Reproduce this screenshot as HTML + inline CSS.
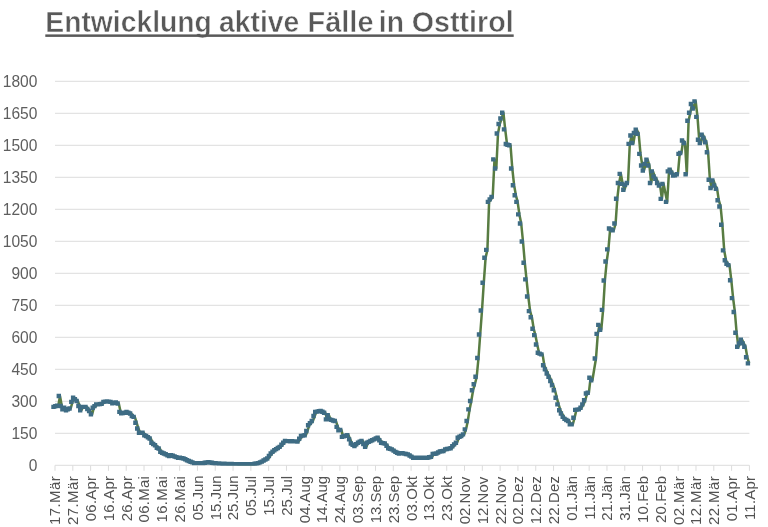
<!DOCTYPE html>
<html lang="de"><head><meta charset="utf-8"><title>Entwicklung aktive Fälle in Osttirol</title>
<style>
html,body{margin:0;padding:0;background:#fff;}
body{width:768px;height:527px;overflow:hidden;position:relative;font-family:"Liberation Sans",sans-serif;}
svg{position:absolute;left:0;top:0;display:block;}
.t{font-family:"Liberation Sans",sans-serif;font-weight:bold;font-size:29.5px;fill:#595959;stroke:#fff;stroke-width:0.5px;}
.yl{font-family:"Liberation Sans",sans-serif;font-size:16.5px;fill:#5e5e5e;}
.xl{font-family:"Liberation Sans",sans-serif;font-size:15px;fill:#525252;}
</style></head><body>
<svg width="768" height="527" viewBox="0 0 768 527">
<rect x="0" y="0" width="768" height="527" fill="#ffffff"/>
<text class="t" y="31.7" xml:space="default"><tspan x="45.3" textLength="166.6" lengthAdjust="spacingAndGlyphs">Entwicklung</tspan> <tspan x="219.1" textLength="80.2" lengthAdjust="spacingAndGlyphs">aktive</tspan> <tspan x="307.5" textLength="66.0" lengthAdjust="spacingAndGlyphs">Fälle</tspan> <tspan x="378.8" textLength="25.1" lengthAdjust="spacingAndGlyphs">in</tspan> <tspan x="411.8" textLength="101.9" lengthAdjust="spacingAndGlyphs">Osttirol</tspan></text>
<rect x="45.3" y="34.4" width="468.4" height="2.5" fill="#595959"/>
<rect x="55.0" y="464.80" width="694.40" height="1" fill="#dcdcdc"/>
<text class="yl" x="28.75" y="470.60" textLength="8.65" lengthAdjust="spacingAndGlyphs">0</text>
<rect x="55.0" y="432.80" width="694.40" height="1" fill="#dddddd"/>
<text class="yl" x="11.45" y="438.60" textLength="25.95" lengthAdjust="spacingAndGlyphs">150</text>
<rect x="55.0" y="400.80" width="694.40" height="1" fill="#dddddd"/>
<text class="yl" x="11.45" y="406.60" textLength="25.95" lengthAdjust="spacingAndGlyphs">300</text>
<rect x="55.0" y="368.80" width="694.40" height="1" fill="#dddddd"/>
<text class="yl" x="11.45" y="374.60" textLength="25.95" lengthAdjust="spacingAndGlyphs">450</text>
<rect x="55.0" y="336.80" width="694.40" height="1" fill="#dddddd"/>
<text class="yl" x="11.45" y="342.60" textLength="25.95" lengthAdjust="spacingAndGlyphs">600</text>
<rect x="55.0" y="304.80" width="694.40" height="1" fill="#dddddd"/>
<text class="yl" x="11.45" y="310.60" textLength="25.95" lengthAdjust="spacingAndGlyphs">750</text>
<rect x="55.0" y="272.80" width="694.40" height="1" fill="#dddddd"/>
<text class="yl" x="11.45" y="278.60" textLength="25.95" lengthAdjust="spacingAndGlyphs">900</text>
<rect x="55.0" y="240.80" width="694.40" height="1" fill="#dddddd"/>
<text class="yl" x="2.80" y="246.60" textLength="34.60" lengthAdjust="spacingAndGlyphs">1050</text>
<rect x="55.0" y="208.80" width="694.40" height="1" fill="#dddddd"/>
<text class="yl" x="2.80" y="214.60" textLength="34.60" lengthAdjust="spacingAndGlyphs">1200</text>
<rect x="55.0" y="176.80" width="694.40" height="1" fill="#dddddd"/>
<text class="yl" x="2.80" y="182.60" textLength="34.60" lengthAdjust="spacingAndGlyphs">1350</text>
<rect x="55.0" y="144.80" width="694.40" height="1" fill="#dddddd"/>
<text class="yl" x="2.80" y="150.60" textLength="34.60" lengthAdjust="spacingAndGlyphs">1500</text>
<rect x="55.0" y="112.80" width="694.40" height="1" fill="#dddddd"/>
<text class="yl" x="2.80" y="118.60" textLength="34.60" lengthAdjust="spacingAndGlyphs">1650</text>
<rect x="55.0" y="80.80" width="694.40" height="1" fill="#dddddd"/>
<text class="yl" x="2.80" y="86.60" textLength="34.60" lengthAdjust="spacingAndGlyphs">1800</text>
<rect x="54.50" y="465.3" width="1" height="5.5" fill="#dcdcdc"/>
<text class="xl" text-anchor="end" letter-spacing="0.433" transform="translate(60.40,475.8) rotate(-90)">17.Mär</text>
<rect x="72.31" y="465.3" width="1" height="5.5" fill="#dcdcdc"/>
<text class="xl" text-anchor="end" letter-spacing="0.433" transform="translate(78.21,475.8) rotate(-90)">27.Mär</text>
<rect x="90.11" y="465.3" width="1" height="5.5" fill="#dcdcdc"/>
<text class="xl" text-anchor="end" letter-spacing="0.200" transform="translate(96.01,475.8) rotate(-90)">06.Apr</text>
<rect x="107.92" y="465.3" width="1" height="5.5" fill="#dcdcdc"/>
<text class="xl" text-anchor="end" letter-spacing="0.200" transform="translate(113.82,475.8) rotate(-90)">16.Apr</text>
<rect x="125.72" y="465.3" width="1" height="5.5" fill="#dcdcdc"/>
<text class="xl" text-anchor="end" letter-spacing="0.200" transform="translate(131.62,475.8) rotate(-90)">26.Apr</text>
<rect x="143.53" y="465.3" width="1" height="5.5" fill="#dcdcdc"/>
<text class="xl" text-anchor="end" letter-spacing="0.267" transform="translate(149.43,475.8) rotate(-90)">06.Mai</text>
<rect x="161.33" y="465.3" width="1" height="5.5" fill="#dcdcdc"/>
<text class="xl" text-anchor="end" letter-spacing="0.267" transform="translate(167.23,475.8) rotate(-90)">16.Mai</text>
<rect x="179.14" y="465.3" width="1" height="5.5" fill="#dcdcdc"/>
<text class="xl" text-anchor="end" letter-spacing="0.267" transform="translate(185.04,475.8) rotate(-90)">26.Mai</text>
<rect x="196.94" y="465.3" width="1" height="5.5" fill="#dcdcdc"/>
<text class="xl" text-anchor="end" transform="translate(202.84,475.3) rotate(-90)">05.Jun</text>
<rect x="214.75" y="465.3" width="1" height="5.5" fill="#dcdcdc"/>
<text class="xl" text-anchor="end" transform="translate(220.65,475.3) rotate(-90)">15.Jun</text>
<rect x="232.55" y="465.3" width="1" height="5.5" fill="#dcdcdc"/>
<text class="xl" text-anchor="end" transform="translate(238.45,475.3) rotate(-90)">25.Jun</text>
<rect x="250.36" y="465.3" width="1" height="5.5" fill="#dcdcdc"/>
<text class="xl" text-anchor="end" transform="translate(256.26,475.8) rotate(-90)">05.Jul</text>
<rect x="268.16" y="465.3" width="1" height="5.5" fill="#dcdcdc"/>
<text class="xl" text-anchor="end" transform="translate(274.06,475.8) rotate(-90)">15.Jul</text>
<rect x="285.97" y="465.3" width="1" height="5.5" fill="#dcdcdc"/>
<text class="xl" text-anchor="end" transform="translate(291.87,475.8) rotate(-90)">25.Jul</text>
<rect x="303.77" y="465.3" width="1" height="5.5" fill="#dcdcdc"/>
<text class="xl" text-anchor="end" transform="translate(309.67,475.8) rotate(-90)">04.Aug</text>
<rect x="321.58" y="465.3" width="1" height="5.5" fill="#dcdcdc"/>
<text class="xl" text-anchor="end" transform="translate(327.48,475.8) rotate(-90)">14.Aug</text>
<rect x="339.38" y="465.3" width="1" height="5.5" fill="#dcdcdc"/>
<text class="xl" text-anchor="end" transform="translate(345.28,475.8) rotate(-90)">24.Aug</text>
<rect x="357.19" y="465.3" width="1" height="5.5" fill="#dcdcdc"/>
<text class="xl" text-anchor="end" transform="translate(363.09,475.8) rotate(-90)">03.Sep</text>
<rect x="374.99" y="465.3" width="1" height="5.5" fill="#dcdcdc"/>
<text class="xl" text-anchor="end" transform="translate(380.89,475.8) rotate(-90)">13.Sep</text>
<rect x="392.80" y="465.3" width="1" height="5.5" fill="#dcdcdc"/>
<text class="xl" text-anchor="end" transform="translate(398.70,475.8) rotate(-90)">23.Sep</text>
<rect x="410.60" y="465.3" width="1" height="5.5" fill="#dcdcdc"/>
<text class="xl" text-anchor="end" letter-spacing="0.167" transform="translate(416.50,475.8) rotate(-90)">03.Okt</text>
<rect x="428.41" y="465.3" width="1" height="5.5" fill="#dcdcdc"/>
<text class="xl" text-anchor="end" letter-spacing="0.167" transform="translate(434.31,475.8) rotate(-90)">13.Okt</text>
<rect x="446.21" y="465.3" width="1" height="5.5" fill="#dcdcdc"/>
<text class="xl" text-anchor="end" letter-spacing="0.167" transform="translate(452.11,475.8) rotate(-90)">23.Okt</text>
<rect x="464.02" y="465.3" width="1" height="5.5" fill="#dcdcdc"/>
<text class="xl" text-anchor="end" letter-spacing="0.033" transform="translate(469.92,476.6) rotate(-90)">02.Nov</text>
<rect x="481.82" y="465.3" width="1" height="5.5" fill="#dcdcdc"/>
<text class="xl" text-anchor="end" letter-spacing="0.033" transform="translate(487.72,476.6) rotate(-90)">12.Nov</text>
<rect x="499.63" y="465.3" width="1" height="5.5" fill="#dcdcdc"/>
<text class="xl" text-anchor="end" letter-spacing="0.033" transform="translate(505.53,476.6) rotate(-90)">22.Nov</text>
<rect x="517.43" y="465.3" width="1" height="5.5" fill="#dcdcdc"/>
<text class="xl" text-anchor="end" letter-spacing="0.167" transform="translate(523.33,475.8) rotate(-90)">02.Dez</text>
<rect x="535.24" y="465.3" width="1" height="5.5" fill="#dcdcdc"/>
<text class="xl" text-anchor="end" letter-spacing="0.167" transform="translate(541.14,475.8) rotate(-90)">12.Dez</text>
<rect x="553.04" y="465.3" width="1" height="5.5" fill="#dcdcdc"/>
<text class="xl" text-anchor="end" letter-spacing="0.167" transform="translate(558.94,475.8) rotate(-90)">22.Dez</text>
<rect x="570.85" y="465.3" width="1" height="5.5" fill="#dcdcdc"/>
<text class="xl" text-anchor="end" transform="translate(576.75,475.8) rotate(-90)">01.Jän</text>
<rect x="588.65" y="465.3" width="1" height="5.5" fill="#dcdcdc"/>
<text class="xl" text-anchor="end" transform="translate(594.55,475.8) rotate(-90)">11.Jän</text>
<rect x="606.46" y="465.3" width="1" height="5.5" fill="#dcdcdc"/>
<text class="xl" text-anchor="end" transform="translate(612.36,475.8) rotate(-90)">21.Jän</text>
<rect x="624.26" y="465.3" width="1" height="5.5" fill="#dcdcdc"/>
<text class="xl" text-anchor="end" transform="translate(630.16,475.8) rotate(-90)">31.Jän</text>
<rect x="642.07" y="465.3" width="1" height="5.5" fill="#dcdcdc"/>
<text class="xl" text-anchor="end" letter-spacing="0.067" transform="translate(647.97,475.8) rotate(-90)">10.Feb</text>
<rect x="659.87" y="465.3" width="1" height="5.5" fill="#dcdcdc"/>
<text class="xl" text-anchor="end" letter-spacing="0.067" transform="translate(665.77,475.8) rotate(-90)">20.Feb</text>
<rect x="677.68" y="465.3" width="1" height="5.5" fill="#dcdcdc"/>
<text class="xl" text-anchor="end" letter-spacing="0.433" transform="translate(683.58,475.8) rotate(-90)">02.Mär</text>
<rect x="695.48" y="465.3" width="1" height="5.5" fill="#dcdcdc"/>
<text class="xl" text-anchor="end" letter-spacing="0.433" transform="translate(701.38,475.8) rotate(-90)">12.Mär</text>
<rect x="713.29" y="465.3" width="1" height="5.5" fill="#dcdcdc"/>
<text class="xl" text-anchor="end" letter-spacing="0.433" transform="translate(719.19,475.8) rotate(-90)">22.Mär</text>
<rect x="731.09" y="465.3" width="1" height="5.5" fill="#dcdcdc"/>
<text class="xl" text-anchor="end" letter-spacing="0.200" transform="translate(736.99,475.8) rotate(-90)">01.Apr</text>
<rect x="748.90" y="465.3" width="1" height="5.5" fill="#dcdcdc"/>
<text class="xl" text-anchor="end" letter-spacing="0.200" transform="translate(754.80,475.8) rotate(-90)">11.Apr</text>
<polyline points="54.7,406.9 56.5,406.2 58.3,405.8 60.0,396.0 61.8,406.0 63.6,409.4 65.4,407.7 67.2,410.2 68.9,409.3 70.7,408.5 72.5,401.9 74.3,397.7 76.1,399.3 77.8,401.0 79.6,406.0 81.4,410.2 83.2,406.9 85.0,406.9 86.7,406.9 88.5,408.9 90.3,411.0 92.1,414.4 93.9,407.7 95.7,406.1 97.4,404.4 99.2,404.4 101.0,404.1 102.8,403.9 104.6,401.9 106.3,401.6 108.1,401.4 109.9,401.6 111.7,401.9 113.5,403.2 115.2,402.8 117.0,402.4 118.8,403.5 120.6,411.9 122.4,413.2 124.1,412.9 125.9,412.7 127.7,411.9 129.5,412.7 131.3,413.5 133.0,416.0 134.8,416.9 136.6,422.7 138.4,428.5 140.2,432.7 141.9,432.7 143.7,432.7 145.5,435.2 147.3,436.0 149.1,437.2 150.8,438.5 152.6,442.7 154.4,443.9 156.2,445.2 158.0,447.7 159.8,448.5 161.5,451.9 163.3,452.7 165.1,453.5 166.9,454.3 168.7,455.2 170.4,456.0 172.2,455.2 174.0,455.8 175.8,456.5 177.6,457.1 179.3,457.7 181.1,457.7 182.9,458.1 184.7,458.5 186.5,459.3 188.2,460.2 190.0,461.0 191.8,461.7 193.6,462.4 195.4,463.1 197.1,463.1 198.9,463.1 200.7,463.1 202.5,463.1 204.3,463.1 206.0,462.8 207.8,462.5 209.6,462.1 211.4,462.5 213.2,462.8 214.9,463.1 216.7,463.3 218.5,463.4 220.3,463.5 222.1,463.6 223.8,463.7 225.6,463.8 227.4,463.9 229.2,463.9 231.0,464.0 232.8,464.0 234.5,464.1 236.3,464.1 238.1,464.2 239.9,464.2 241.7,464.2 243.4,464.2 245.2,464.2 247.0,464.2 248.8,464.2 250.6,464.2 252.3,464.2 254.1,464.2 255.9,463.8 257.7,463.5 259.5,463.1 261.2,462.4 263.0,461.6 264.8,460.5 266.6,459.5 268.4,458.5 270.1,456.0 271.9,453.5 273.7,451.8 275.5,450.2 277.3,449.1 279.0,448.0 280.8,446.9 282.6,444.8 284.4,442.7 286.2,441.0 287.9,441.1 289.7,441.1 291.5,441.2 293.3,441.3 295.1,441.4 296.8,441.4 298.6,441.5 300.4,438.8 302.2,436.0 304.0,435.6 305.8,435.2 307.5,431.0 309.3,425.2 311.1,423.1 312.9,421.0 314.7,416.0 316.4,411.9 318.2,411.6 320.0,411.3 321.8,411.0 323.6,411.8 325.3,412.7 327.1,419.4 328.9,415.2 330.7,419.4 332.5,419.9 334.2,420.5 336.0,421.0 337.8,426.9 339.6,430.2 341.4,429.9 343.1,436.9 344.9,436.3 346.7,435.8 348.5,435.2 350.3,439.4 352.0,443.5 353.8,444.8 355.6,446.0 357.4,444.3 359.2,442.7 360.9,441.8 362.7,441.0 364.5,443.9 366.3,446.9 368.1,442.7 369.9,441.9 371.6,441.0 373.4,440.2 375.2,439.4 377.0,438.5 378.8,437.7 380.5,440.2 382.3,442.7 384.1,443.1 385.9,443.5 387.7,445.8 389.4,448.2 391.2,448.8 393.0,449.4 394.8,450.6 396.6,451.9 398.3,452.7 400.1,453.5 401.9,453.3 403.7,453.2 405.5,453.6 407.2,454.0 409.0,454.4 410.8,455.5 412.6,456.6 414.4,457.7 416.1,457.7 417.9,457.7 419.7,457.7 421.5,457.7 423.3,457.7 425.0,457.7 426.8,457.7 428.6,457.7 430.4,457.3 432.2,456.9 433.9,453.9 435.7,453.7 437.5,453.5 439.3,452.5 441.1,451.5 442.9,451.2 444.6,451.0 446.4,449.4 448.2,449.0 450.0,448.6 451.8,448.2 453.5,446.3 455.3,444.4 457.1,442.7 458.9,437.7 460.7,436.8 462.4,436.0 464.2,434.4 466.0,429.4 467.8,421.0 469.6,409.4 471.3,401.0 473.1,390.2 474.9,384.2 476.7,376.8 478.5,358.0 480.2,334.5 482.0,310.5 483.8,282.7 485.6,257.7 487.4,249.9 489.1,201.9 490.9,199.4 492.7,196.9 494.5,159.4 496.3,168.5 498.0,133.5 499.8,124.0 501.6,118.5 503.4,112.7 505.2,129.4 507.0,144.0 508.7,144.7 510.5,145.2 512.3,168.5 514.1,185.2 515.9,195.2 517.6,201.9 519.4,214.4 521.2,223.5 523.0,241.5 524.8,262.7 526.5,279.4 528.3,296.5 530.1,311.1 531.9,317.3 533.7,328.8 535.4,335.1 537.2,344.5 539.0,352.7 540.8,353.6 542.6,354.4 544.3,365.2 546.1,369.4 547.9,373.5 549.7,376.9 551.5,381.0 553.2,385.2 555.0,390.2 556.8,397.7 558.6,404.4 560.4,410.2 562.1,413.5 563.9,416.9 565.7,418.9 567.5,419.9 569.3,421.0 571.0,424.4 572.8,424.4 574.6,417.7 576.4,409.9 578.2,409.6 580.0,409.4 581.7,407.7 583.5,404.4 585.3,400.2 587.1,393.5 588.9,392.7 590.6,377.7 592.4,380.2 594.2,369.3 596.0,358.5 597.8,333.9 599.5,324.9 601.3,329.7 603.1,309.9 604.9,280.5 606.7,261.5 608.4,249.4 610.2,228.5 612.0,229.4 613.8,230.2 615.6,223.5 617.3,198.7 619.1,183.0 620.9,173.9 622.7,183.9 624.5,189.7 626.2,184.7 628.0,183.0 629.8,143.9 631.6,135.5 633.4,143.0 635.1,133.0 636.9,129.7 638.7,133.9 640.5,153.9 642.3,165.5 644.0,170.5 645.8,163.9 647.6,159.7 649.4,165.5 651.2,183.0 653.0,171.4 654.7,176.4 656.5,178.9 658.3,183.0 660.1,185.5 661.9,198.9 663.6,183.9 665.4,192.9 667.2,201.9 669.0,171.4 670.8,169.7 672.5,172.6 674.3,175.5 676.1,175.2 677.9,174.2 679.7,153.9 681.4,153.0 683.2,140.5 685.0,143.0 686.8,174.2 688.6,120.7 690.3,112.7 692.1,104.0 693.9,108.5 695.7,101.5 697.5,116.9 699.2,139.7 701.0,143.0 702.8,134.7 704.6,138.0 706.4,142.2 708.1,152.2 709.9,179.7 711.7,188.0 713.5,180.5 715.3,185.5 717.1,188.9 718.8,200.2 720.6,206.5 722.4,224.8 724.2,250.4 726.0,260.3 727.7,263.8 729.5,265.1 731.3,280.2 733.1,298.1 734.9,312.0 736.6,332.7 738.4,346.8 740.2,343.4 742.0,339.6 743.8,343.4 745.5,346.8 747.3,357.2 749.1,363.4" fill="none" stroke="#587c42" stroke-width="2.5" stroke-linejoin="round"/>
<clipPath id="pc"><rect x="0" y="0" width="768" height="465.7"/></clipPath>
<path d="M51.3 404.7h4.4v4.4h-4.4zM53.1 404.0h4.4v4.4h-4.4zM54.9 403.6h4.4v4.4h-4.4zM56.6 393.8h4.4v4.4h-4.4zM58.4 403.8h4.4v4.4h-4.4zM60.2 407.2h4.4v4.4h-4.4zM62.0 405.5h4.4v4.4h-4.4zM63.8 408.0h4.4v4.4h-4.4zM65.5 407.1h4.4v4.4h-4.4zM67.3 406.3h4.4v4.4h-4.4zM69.1 399.7h4.4v4.4h-4.4zM70.9 395.5h4.4v4.4h-4.4zM72.7 397.1h4.4v4.4h-4.4zM74.4 398.8h4.4v4.4h-4.4zM76.2 403.8h4.4v4.4h-4.4zM78.0 408.0h4.4v4.4h-4.4zM79.8 404.7h4.4v4.4h-4.4zM81.6 404.7h4.4v4.4h-4.4zM83.3 404.7h4.4v4.4h-4.4zM85.1 406.8h4.4v4.4h-4.4zM86.9 408.8h4.4v4.4h-4.4zM88.7 412.2h4.4v4.4h-4.4zM90.5 405.5h4.4v4.4h-4.4zM92.3 403.9h4.4v4.4h-4.4zM94.0 402.2h4.4v4.4h-4.4zM95.8 402.2h4.4v4.4h-4.4zM97.6 401.9h4.4v4.4h-4.4zM99.4 401.7h4.4v4.4h-4.4zM101.2 399.7h4.4v4.4h-4.4zM102.9 399.4h4.4v4.4h-4.4zM104.7 399.2h4.4v4.4h-4.4zM106.5 399.4h4.4v4.4h-4.4zM108.3 399.7h4.4v4.4h-4.4zM110.1 401.0h4.4v4.4h-4.4zM111.8 400.6h4.4v4.4h-4.4zM113.6 400.2h4.4v4.4h-4.4zM115.4 401.3h4.4v4.4h-4.4zM117.2 409.7h4.4v4.4h-4.4zM119.0 411.0h4.4v4.4h-4.4zM120.7 410.8h4.4v4.4h-4.4zM122.5 410.5h4.4v4.4h-4.4zM124.3 409.7h4.4v4.4h-4.4zM126.1 410.5h4.4v4.4h-4.4zM127.9 411.3h4.4v4.4h-4.4zM129.6 413.8h4.4v4.4h-4.4zM131.4 414.7h4.4v4.4h-4.4zM133.2 420.5h4.4v4.4h-4.4zM135.0 426.3h4.4v4.4h-4.4zM136.8 430.5h4.4v4.4h-4.4zM138.5 430.5h4.4v4.4h-4.4zM140.3 430.5h4.4v4.4h-4.4zM142.1 433.0h4.4v4.4h-4.4zM143.9 433.8h4.4v4.4h-4.4zM145.7 435.1h4.4v4.4h-4.4zM147.4 436.3h4.4v4.4h-4.4zM149.2 440.5h4.4v4.4h-4.4zM151.0 441.8h4.4v4.4h-4.4zM152.8 443.0h4.4v4.4h-4.4zM154.6 445.5h4.4v4.4h-4.4zM156.4 446.3h4.4v4.4h-4.4zM158.1 449.7h4.4v4.4h-4.4zM159.9 450.5h4.4v4.4h-4.4zM161.7 451.3h4.4v4.4h-4.4zM163.5 452.1h4.4v4.4h-4.4zM165.3 453.0h4.4v4.4h-4.4zM167.0 453.8h4.4v4.4h-4.4zM168.8 453.0h4.4v4.4h-4.4zM170.6 453.6h4.4v4.4h-4.4zM172.4 454.3h4.4v4.4h-4.4zM174.2 454.9h4.4v4.4h-4.4zM175.9 455.5h4.4v4.4h-4.4zM177.7 455.5h4.4v4.4h-4.4zM179.5 455.9h4.4v4.4h-4.4zM181.3 456.3h4.4v4.4h-4.4zM183.1 457.1h4.4v4.4h-4.4zM184.8 458.0h4.4v4.4h-4.4zM186.6 458.8h4.4v4.4h-4.4zM188.4 459.5h4.4v4.4h-4.4zM190.2 460.2h4.4v4.4h-4.4zM192.0 460.9h4.4v4.4h-4.4zM193.7 460.9h4.4v4.4h-4.4zM195.5 460.9h4.4v4.4h-4.4zM197.3 460.9h4.4v4.4h-4.4zM199.1 460.9h4.4v4.4h-4.4zM200.9 460.9h4.4v4.4h-4.4zM202.6 460.6h4.4v4.4h-4.4zM204.4 460.3h4.4v4.4h-4.4zM206.2 459.9h4.4v4.4h-4.4zM208.0 460.3h4.4v4.4h-4.4zM209.8 460.6h4.4v4.4h-4.4zM211.5 460.9h4.4v4.4h-4.4zM213.3 461.1h4.4v4.4h-4.4zM215.1 461.2h4.4v4.4h-4.4zM216.9 461.3h4.4v4.4h-4.4zM218.7 461.4h4.4v4.4h-4.4zM220.4 461.5h4.4v4.4h-4.4zM222.2 461.6h4.4v4.4h-4.4zM224.0 461.7h4.4v4.4h-4.4zM225.8 461.7h4.4v4.4h-4.4zM227.6 461.8h4.4v4.4h-4.4zM229.4 461.8h4.4v4.4h-4.4zM231.1 461.9h4.4v4.4h-4.4zM232.9 461.9h4.4v4.4h-4.4zM234.7 462.0h4.4v4.4h-4.4zM236.5 462.0h4.4v4.4h-4.4zM238.3 462.0h4.4v4.4h-4.4zM240.0 462.0h4.4v4.4h-4.4zM241.8 462.0h4.4v4.4h-4.4zM243.6 462.0h4.4v4.4h-4.4zM245.4 462.0h4.4v4.4h-4.4zM247.2 462.0h4.4v4.4h-4.4zM248.9 462.0h4.4v4.4h-4.4zM250.7 462.0h4.4v4.4h-4.4zM252.5 461.6h4.4v4.4h-4.4zM254.3 461.3h4.4v4.4h-4.4zM256.1 460.9h4.4v4.4h-4.4zM257.8 460.2h4.4v4.4h-4.4zM259.6 459.4h4.4v4.4h-4.4zM261.4 458.3h4.4v4.4h-4.4zM263.2 457.3h4.4v4.4h-4.4zM265.0 456.3h4.4v4.4h-4.4zM266.7 453.8h4.4v4.4h-4.4zM268.5 451.3h4.4v4.4h-4.4zM270.3 449.6h4.4v4.4h-4.4zM272.1 448.0h4.4v4.4h-4.4zM273.9 446.9h4.4v4.4h-4.4zM275.6 445.8h4.4v4.4h-4.4zM277.4 444.7h4.4v4.4h-4.4zM279.2 442.6h4.4v4.4h-4.4zM281.0 440.5h4.4v4.4h-4.4zM282.8 438.8h4.4v4.4h-4.4zM284.5 438.9h4.4v4.4h-4.4zM286.3 438.9h4.4v4.4h-4.4zM288.1 439.0h4.4v4.4h-4.4zM289.9 439.1h4.4v4.4h-4.4zM291.7 439.2h4.4v4.4h-4.4zM293.4 439.2h4.4v4.4h-4.4zM295.2 439.3h4.4v4.4h-4.4zM297.0 436.6h4.4v4.4h-4.4zM298.8 433.8h4.4v4.4h-4.4zM300.6 433.4h4.4v4.4h-4.4zM302.4 433.0h4.4v4.4h-4.4zM304.1 428.8h4.4v4.4h-4.4zM305.9 423.0h4.4v4.4h-4.4zM307.7 420.9h4.4v4.4h-4.4zM309.5 418.8h4.4v4.4h-4.4zM311.3 413.8h4.4v4.4h-4.4zM313.0 409.7h4.4v4.4h-4.4zM314.8 409.4h4.4v4.4h-4.4zM316.6 409.1h4.4v4.4h-4.4zM318.4 408.8h4.4v4.4h-4.4zM320.2 409.6h4.4v4.4h-4.4zM321.9 410.5h4.4v4.4h-4.4zM323.7 417.2h4.4v4.4h-4.4zM325.5 413.0h4.4v4.4h-4.4zM327.3 417.2h4.4v4.4h-4.4zM329.1 417.7h4.4v4.4h-4.4zM330.8 418.3h4.4v4.4h-4.4zM332.6 418.8h4.4v4.4h-4.4zM334.4 424.7h4.4v4.4h-4.4zM336.2 428.0h4.4v4.4h-4.4zM338.0 427.7h4.4v4.4h-4.4zM339.7 434.7h4.4v4.4h-4.4zM341.5 434.1h4.4v4.4h-4.4zM343.3 433.6h4.4v4.4h-4.4zM345.1 433.0h4.4v4.4h-4.4zM346.9 437.2h4.4v4.4h-4.4zM348.6 441.3h4.4v4.4h-4.4zM350.4 442.6h4.4v4.4h-4.4zM352.2 443.8h4.4v4.4h-4.4zM354.0 442.1h4.4v4.4h-4.4zM355.8 440.5h4.4v4.4h-4.4zM357.5 439.6h4.4v4.4h-4.4zM359.3 438.8h4.4v4.4h-4.4zM361.1 441.8h4.4v4.4h-4.4zM362.9 444.7h4.4v4.4h-4.4zM364.7 440.5h4.4v4.4h-4.4zM366.5 439.7h4.4v4.4h-4.4zM368.2 438.8h4.4v4.4h-4.4zM370.0 438.0h4.4v4.4h-4.4zM371.8 437.2h4.4v4.4h-4.4zM373.6 436.3h4.4v4.4h-4.4zM375.4 435.5h4.4v4.4h-4.4zM377.1 438.0h4.4v4.4h-4.4zM378.9 440.5h4.4v4.4h-4.4zM380.7 440.9h4.4v4.4h-4.4zM382.5 441.3h4.4v4.4h-4.4zM384.3 443.6h4.4v4.4h-4.4zM386.0 446.0h4.4v4.4h-4.4zM387.8 446.6h4.4v4.4h-4.4zM389.6 447.2h4.4v4.4h-4.4zM391.4 448.4h4.4v4.4h-4.4zM393.2 449.7h4.4v4.4h-4.4zM394.9 450.5h4.4v4.4h-4.4zM396.7 451.3h4.4v4.4h-4.4zM398.5 451.1h4.4v4.4h-4.4zM400.3 451.0h4.4v4.4h-4.4zM402.1 451.4h4.4v4.4h-4.4zM403.8 451.8h4.4v4.4h-4.4zM405.6 452.2h4.4v4.4h-4.4zM407.4 453.3h4.4v4.4h-4.4zM409.2 454.4h4.4v4.4h-4.4zM411.0 455.5h4.4v4.4h-4.4zM412.7 455.5h4.4v4.4h-4.4zM414.5 455.5h4.4v4.4h-4.4zM416.3 455.5h4.4v4.4h-4.4zM418.1 455.5h4.4v4.4h-4.4zM419.9 455.5h4.4v4.4h-4.4zM421.6 455.5h4.4v4.4h-4.4zM423.4 455.5h4.4v4.4h-4.4zM425.2 455.5h4.4v4.4h-4.4zM427.0 455.1h4.4v4.4h-4.4zM428.8 454.7h4.4v4.4h-4.4zM430.5 451.7h4.4v4.4h-4.4zM432.3 451.5h4.4v4.4h-4.4zM434.1 451.3h4.4v4.4h-4.4zM435.9 450.3h4.4v4.4h-4.4zM437.7 449.3h4.4v4.4h-4.4zM439.5 449.1h4.4v4.4h-4.4zM441.2 448.8h4.4v4.4h-4.4zM443.0 447.2h4.4v4.4h-4.4zM444.8 446.8h4.4v4.4h-4.4zM446.6 446.4h4.4v4.4h-4.4zM448.4 446.0h4.4v4.4h-4.4zM450.1 444.1h4.4v4.4h-4.4zM451.9 442.2h4.4v4.4h-4.4zM453.7 440.5h4.4v4.4h-4.4zM455.5 435.5h4.4v4.4h-4.4zM457.3 434.6h4.4v4.4h-4.4zM459.0 433.8h4.4v4.4h-4.4zM460.8 432.2h4.4v4.4h-4.4zM462.6 427.2h4.4v4.4h-4.4zM464.4 418.8h4.4v4.4h-4.4zM466.2 407.2h4.4v4.4h-4.4zM467.9 398.8h4.4v4.4h-4.4zM469.7 388.0h4.4v4.4h-4.4zM471.5 382.0h4.4v4.4h-4.4zM473.3 374.6h4.4v4.4h-4.4zM475.1 355.8h4.4v4.4h-4.4zM476.8 332.3h4.4v4.4h-4.4zM478.6 308.3h4.4v4.4h-4.4zM480.4 280.5h4.4v4.4h-4.4zM482.2 255.5h4.4v4.4h-4.4zM484.0 247.7h4.4v4.4h-4.4zM485.7 199.7h4.4v4.4h-4.4zM487.5 197.2h4.4v4.4h-4.4zM489.3 194.7h4.4v4.4h-4.4zM491.1 157.2h4.4v4.4h-4.4zM492.9 166.3h4.4v4.4h-4.4zM494.6 131.3h4.4v4.4h-4.4zM496.4 121.8h4.4v4.4h-4.4zM498.2 116.3h4.4v4.4h-4.4zM500.0 110.5h4.4v4.4h-4.4zM501.8 127.2h4.4v4.4h-4.4zM503.6 141.8h4.4v4.4h-4.4zM505.3 142.5h4.4v4.4h-4.4zM507.1 143.0h4.4v4.4h-4.4zM508.9 166.3h4.4v4.4h-4.4zM510.7 183.0h4.4v4.4h-4.4zM512.5 193.0h4.4v4.4h-4.4zM514.2 199.7h4.4v4.4h-4.4zM516.0 212.2h4.4v4.4h-4.4zM517.8 221.3h4.4v4.4h-4.4zM519.6 239.3h4.4v4.4h-4.4zM521.4 260.5h4.4v4.4h-4.4zM523.1 277.2h4.4v4.4h-4.4zM524.9 294.3h4.4v4.4h-4.4zM526.7 308.9h4.4v4.4h-4.4zM528.5 315.1h4.4v4.4h-4.4zM530.3 326.6h4.4v4.4h-4.4zM532.0 332.9h4.4v4.4h-4.4zM533.8 342.3h4.4v4.4h-4.4zM535.6 350.5h4.4v4.4h-4.4zM537.4 351.4h4.4v4.4h-4.4zM539.2 352.2h4.4v4.4h-4.4zM540.9 363.0h4.4v4.4h-4.4zM542.7 367.2h4.4v4.4h-4.4zM544.5 371.3h4.4v4.4h-4.4zM546.3 374.7h4.4v4.4h-4.4zM548.1 378.8h4.4v4.4h-4.4zM549.8 383.0h4.4v4.4h-4.4zM551.6 388.0h4.4v4.4h-4.4zM553.4 395.5h4.4v4.4h-4.4zM555.2 402.2h4.4v4.4h-4.4zM557.0 408.0h4.4v4.4h-4.4zM558.7 411.3h4.4v4.4h-4.4zM560.5 414.7h4.4v4.4h-4.4zM562.3 416.7h4.4v4.4h-4.4zM564.1 417.8h4.4v4.4h-4.4zM565.9 418.8h4.4v4.4h-4.4zM567.6 422.2h4.4v4.4h-4.4zM569.4 422.2h4.4v4.4h-4.4zM571.2 415.5h4.4v4.4h-4.4zM573.0 407.7h4.4v4.4h-4.4zM574.8 407.4h4.4v4.4h-4.4zM576.6 407.2h4.4v4.4h-4.4zM578.3 405.5h4.4v4.4h-4.4zM580.1 402.2h4.4v4.4h-4.4zM581.9 398.0h4.4v4.4h-4.4zM583.7 391.3h4.4v4.4h-4.4zM585.5 390.5h4.4v4.4h-4.4zM587.2 375.5h4.4v4.4h-4.4zM589.0 378.0h4.4v4.4h-4.4zM592.6 356.3h4.4v4.4h-4.4zM594.4 331.7h4.4v4.4h-4.4zM596.1 322.7h4.4v4.4h-4.4zM597.9 327.5h4.4v4.4h-4.4zM599.7 307.7h4.4v4.4h-4.4zM601.5 278.3h4.4v4.4h-4.4zM603.3 259.3h4.4v4.4h-4.4zM605.0 247.2h4.4v4.4h-4.4zM606.8 226.3h4.4v4.4h-4.4zM608.6 227.2h4.4v4.4h-4.4zM610.4 228.0h4.4v4.4h-4.4zM612.2 221.3h4.4v4.4h-4.4zM613.9 196.5h4.4v4.4h-4.4zM615.7 180.8h4.4v4.4h-4.4zM617.5 171.7h4.4v4.4h-4.4zM619.3 181.7h4.4v4.4h-4.4zM621.1 187.5h4.4v4.4h-4.4zM622.8 182.5h4.4v4.4h-4.4zM624.6 180.8h4.4v4.4h-4.4zM626.4 141.7h4.4v4.4h-4.4zM628.2 133.3h4.4v4.4h-4.4zM630.0 140.8h4.4v4.4h-4.4zM631.7 130.8h4.4v4.4h-4.4zM633.5 127.5h4.4v4.4h-4.4zM635.3 131.7h4.4v4.4h-4.4zM637.1 151.7h4.4v4.4h-4.4zM638.9 163.3h4.4v4.4h-4.4zM640.6 168.3h4.4v4.4h-4.4zM642.4 161.7h4.4v4.4h-4.4zM644.2 157.5h4.4v4.4h-4.4zM646.0 163.3h4.4v4.4h-4.4zM647.8 180.8h4.4v4.4h-4.4zM649.6 169.2h4.4v4.4h-4.4zM651.3 174.2h4.4v4.4h-4.4zM653.1 176.7h4.4v4.4h-4.4zM654.9 180.8h4.4v4.4h-4.4zM656.7 183.3h4.4v4.4h-4.4zM658.5 196.7h4.4v4.4h-4.4zM660.2 181.7h4.4v4.4h-4.4zM663.8 199.7h4.4v4.4h-4.4zM665.6 169.2h4.4v4.4h-4.4zM667.4 167.5h4.4v4.4h-4.4zM669.1 170.4h4.4v4.4h-4.4zM670.9 173.3h4.4v4.4h-4.4zM672.7 173.0h4.4v4.4h-4.4zM674.5 172.0h4.4v4.4h-4.4zM676.3 151.7h4.4v4.4h-4.4zM678.0 150.8h4.4v4.4h-4.4zM679.8 138.3h4.4v4.4h-4.4zM681.6 140.8h4.4v4.4h-4.4zM683.4 172.0h4.4v4.4h-4.4zM685.2 118.5h4.4v4.4h-4.4zM686.9 110.5h4.4v4.4h-4.4zM688.7 101.8h4.4v4.4h-4.4zM690.5 106.3h4.4v4.4h-4.4zM692.3 99.2h4.4v4.4h-4.4zM694.1 114.7h4.4v4.4h-4.4zM695.8 137.5h4.4v4.4h-4.4zM697.6 140.8h4.4v4.4h-4.4zM699.4 132.5h4.4v4.4h-4.4zM701.2 135.8h4.4v4.4h-4.4zM703.0 140.0h4.4v4.4h-4.4zM704.7 150.0h4.4v4.4h-4.4zM706.5 177.5h4.4v4.4h-4.4zM708.3 185.8h4.4v4.4h-4.4zM710.1 178.3h4.4v4.4h-4.4zM711.9 183.3h4.4v4.4h-4.4zM713.7 186.7h4.4v4.4h-4.4zM715.4 198.0h4.4v4.4h-4.4zM717.2 204.3h4.4v4.4h-4.4zM719.0 222.6h4.4v4.4h-4.4zM720.8 248.2h4.4v4.4h-4.4zM722.6 258.1h4.4v4.4h-4.4zM724.3 261.6h4.4v4.4h-4.4zM726.1 262.9h4.4v4.4h-4.4zM727.9 278.0h4.4v4.4h-4.4zM729.7 295.9h4.4v4.4h-4.4zM731.5 309.8h4.4v4.4h-4.4zM733.2 330.5h4.4v4.4h-4.4zM735.0 344.6h4.4v4.4h-4.4zM736.8 341.2h4.4v4.4h-4.4zM738.6 337.4h4.4v4.4h-4.4zM740.4 341.2h4.4v4.4h-4.4zM742.1 344.6h4.4v4.4h-4.4zM743.9 355.0h4.4v4.4h-4.4zM745.7 361.2h4.4v4.4h-4.4z" fill="#3e6c84" clip-path="url(#pc)"/>
</svg></body></html>
